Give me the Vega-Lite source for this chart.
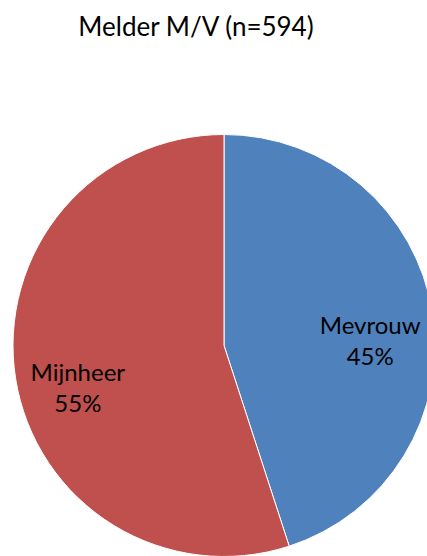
{
  "$schema": "https://vega.github.io/schema/vega-lite/v6.json",
  "autosize": {"type": "none"},
  "width": 406,
  "height": 421,
  "padding": {"left": 21, "top": 135, "right": 0, "bottom": 0},
  "background": "white",
  "title": {
    "text": "Melder M/V (n=594)",
    "font": "Lato",
    "fontSize": 26,
    "fontWeight": "normal",
    "color": "black",
    "anchor": "middle",
    "dx": -28,
    "offset": 92
  },
  "config": {"view": {"stroke": null}},
  "data": {
    "values": [
      {"gender": "Mevrouw", "pct": 45, "label": "45%"},
      {"gender": "Mijnheer", "pct": 55, "label": "55%"}
    ]
  },
  "encoding": {
    "theta": {"field": "pct", "type": "quantitative", "stack": true},
    "color": {
      "field": "gender",
      "type": "nominal",
      "scale": {"domain": ["Mevrouw", "Mijnheer"], "range": ["#4F81BD", "#C0504D"]},
      "legend": null
    }
  },
  "layer": [
    {"mark": {"type": "arc", "outerRadius": 211, "stroke": "white", "strokeWidth": 1}},
    {
      "mark": {"type": "text", "radius": 148, "font": "Lato", "fontSize": 24, "fill": "black", "baseline": "middle", "dy": 5},
      "encoding": {"text": {"field": "gender"}}
    },
    {
      "mark": {"type": "text", "radius": 148, "font": "Lato", "fontSize": 24, "fill": "black", "baseline": "middle", "dy": 36},
      "encoding": {"text": {"field": "label"}}
    }
  ]
}
